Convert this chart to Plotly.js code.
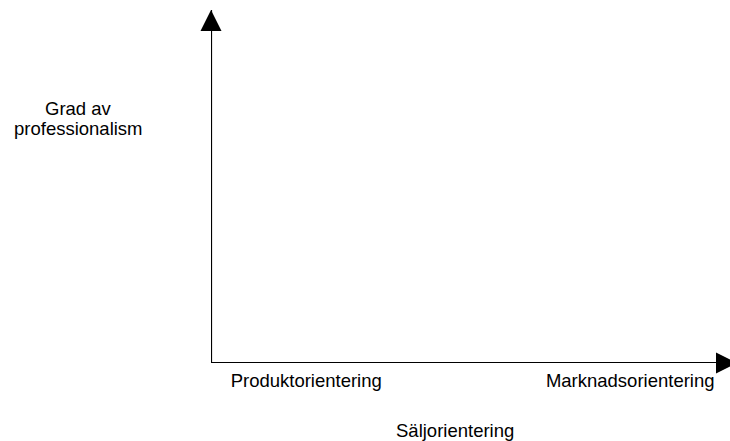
<!DOCTYPE html>
<html>
<head>
<meta charset="utf-8">
<script src="https://cdn.plot.ly/plotly-3.0.1.min.js"></script>
<style>
  html, body { margin: 0; padding: 0; background: #fff; overflow: hidden; }
  #chart { width: 737px; height: 441px; }
</style>
</head>
<body>
<div id="chart"></div>
<script>
// the two axes, drawn as one L-shaped line with arrow heads at the ends
var axisX = [0, 0, 1];
var axisY = [1, 0, 0];
var axisHeads = ['arrow-up', 'circle', 'arrow-right'];

// labels along the horizontal axis
var categories = ['Produktorientering', 'Marknadsorientering'];
var categoryPos = [0.181, 0.797];

var xTitle = 'Säljorientering';
var yTitleLines = ['Grad av', 'professionalism'];

var font = { family: 'Liberation Sans, Arial, sans-serif', size: 18.5, color: '#000' };

var trace = {
  x: axisX,
  y: axisY,
  type: 'scatter',
  mode: 'lines+markers',
  hoverinfo: 'none',
  cliponaxis: false,
  line: { color: '#000', width: 2.2 },
  marker: {
    symbol: axisHeads,
    size: [21, 0, 21],
    color: '#000',
    opacity: 1,
    line: { width: 0 }
  }
};

// y-title lines sit close together, one annotation per line
var yTitleRows = [108, 128];
var annotations = yTitleLines.map(function (t, i) {
  return {
    text: t,
    xref: 'paper', yref: 'paper',
    x: 0, xshift: -133,
    y: (363 - yTitleRows[i]) / 353,
    xanchor: 'center', yanchor: 'middle',
    showarrow: false,
    font: font
  };
});
annotations.push({
  text: xTitle,
  xref: 'paper', yref: 'paper',
  x: 0.464, y: 0, yshift: -67,
  xanchor: 'center', yanchor: 'middle',
  showarrow: false,
  font: font
});

var layout = {
  width: 737,
  height: 441,
  showlegend: false,
  paper_bgcolor: '#fff',
  plot_bgcolor: '#fff',
  font: font,
  margin: { l: 211, r: 0, t: 10, b: 78, pad: 0 },
  xaxis: {
    range: [0, 1],
    showgrid: false,
    zeroline: false,
    showline: false,
    ticks: '',
    tickvals: categoryPos,
    ticktext: categories,
    tickfont: font,
    ticklabelstandoff: 4,
    fixedrange: true
  },
  yaxis: {
    range: [0, 1],
    showgrid: false,
    zeroline: false,
    showline: false,
    showticklabels: false,
    ticks: '',
    fixedrange: true
  },
  annotations: annotations
};

Plotly.newPlot('chart', [trace], layout, { displayModeBar: false, staticPlot: true });
</script>
</body>
</html>
